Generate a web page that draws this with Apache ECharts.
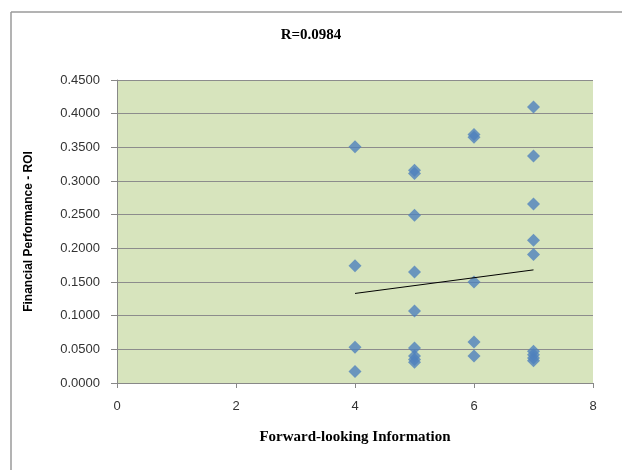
<!DOCTYPE html>
<html>
<head>
<meta charset="utf-8">
<script src="https://cdn.jsdelivr.net/npm/echarts@6/dist/echarts.min.js"></script>
<style>
  html, body { margin: 0; padding: 0; background: #fff; }
  #chart { width: 622px; height: 470px; }
</style>
</head>
<body>
<div id="chart"></div>
<script>
// scatter points: [forward-looking score, ROI]
const roiAt4 = [0.351, 0.174, 0.053, 0.017];
const roiAt5 = [0.316, 0.311, 0.249, 0.165, 0.107, 0.052, 0.040, 0.035, 0.031];
const roiAt6 = [0.369, 0.365, 0.150, 0.061, 0.040];
const roiAt7 = [0.410, 0.337, 0.266, 0.212, 0.191, 0.047, 0.042, 0.037, 0.033];
const trendX = [4, 7];
const trendY = [0.133, 0.168];
const xTicks = [0, 2, 4, 6, 8];

const points = [];
[[4, roiAt4], [5, roiAt5], [6, roiAt6], [7, roiAt7]].forEach(function (g) {
    g[1].forEach(function (v) { points.push([g[0], v]); });
});
const trend = trendX.map(function (x, i) { return [x, trendY[i]]; });

var dom = document.getElementById('chart');
var myChart = echarts.init(dom, null, { renderer: 'canvas' });

const option = {
    animation: false,
    backgroundColor: '#FFFFFF',
    title: {
        text: 'R=0.0984',
        left: 'center',
        top: 23,
        textStyle: {
            fontFamily: 'Liberation Serif',
            fontWeight: 'bold',
            fontSize: 15,
            color: '#000000'
        }
    },
    grid: {
        left: 117,
        right: 29,
        top: 80,
        bottom: 87,
        show: true,
        backgroundColor: '#D7E4BD',
        borderWidth: 0
    },
    xAxis: {
        type: 'value',
        min: 0,
        max: 8,
        interval: 2,
        name: 'Forward-looking Information',
        nameLocation: 'middle',
        nameGap: 47,
        nameTextStyle: {
            fontFamily: 'Liberation Serif',
            fontWeight: 'bold',
            fontSize: 15,
            color: '#000000'
        },
        axisLine: { show: true, lineStyle: { color: '#888888', width: 1 } },
        axisTick: { show: true, inside: false, length: 5, lineStyle: { color: '#888888' } },
        axisLabel: {
            color: '#333333',
            fontFamily: 'Liberation Sans',
            fontSize: 13,
            margin: 17,
            formatter: function (v) { return xTicks.indexOf(v) >= 0 ? String(v) : ''; }
        },
        splitLine: { show: false }
    },
    yAxis: {
        type: 'value',
        min: 0,
        max: 0.45,
        interval: 0.05,
        name: 'Financial Performance - ROI',
        nameLocation: 'middle',
        nameGap: 82,
        nameTextStyle: {
            fontFamily: 'Liberation Sans',
            fontWeight: 'bold',
            fontSize: 12,
            color: '#000000'
        },
        axisLine: { show: true, lineStyle: { color: '#888888', width: 1 } },
        axisTick: { show: true, length: 6, lineStyle: { color: '#888888' } },
        axisLabel: {
            color: '#333333',
            fontFamily: 'Liberation Sans',
            fontSize: 13,
            margin: 17,
            formatter: function (v) { return v.toFixed(4); }
        },
        splitLine: { show: true, lineStyle: { color: '#8C8C8C', width: 1 } }
    },
    series: [
        {
            name: 'ROI',
            type: 'scatter',
            symbol: 'diamond',
            symbolSize: 13,
            itemStyle: { color: '#4F81BD' },
            data: points
        },
        {
            name: 'Trend',
            type: 'line',
            symbol: 'none',
            lineStyle: { color: '#000000', width: 1 },
            data: trend
        }
    ],
    graphic: [
        {
            type: 'line',
            shape: { x1: 11, y1: 12, x2: 622, y2: 12 },
            style: { stroke: '#9A9A9A', lineWidth: 1.5 }
        },
        {
            type: 'line',
            shape: { x1: 11, y1: 12, x2: 11, y2: 470 },
            style: { stroke: '#9A9A9A', lineWidth: 1.5 }
        }
    ]
};

myChart.setOption(option);
window.addEventListener('resize', myChart.resize);
</script>
</body>
</html>
